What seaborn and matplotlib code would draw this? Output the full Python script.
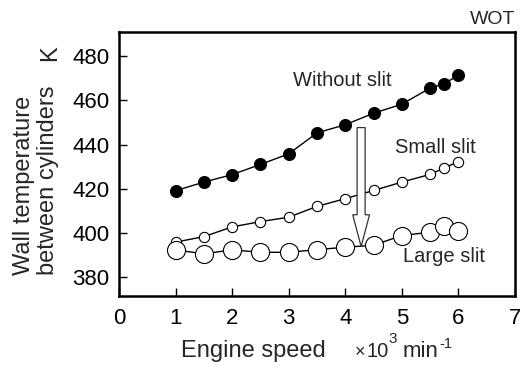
import matplotlib
matplotlib.use("Agg")
import matplotlib.pyplot as plt
import seaborn as sns
import pandas as pd
from matplotlib.patches import FancyArrow

sns.set_theme(style="white")
plt.rcParams['font.family'] = ['Liberation Sans', 'DejaVu Sans']

speed = [1.0, 1.5, 2.0, 2.5, 3.0, 3.5, 4.0, 4.5, 5.0, 5.5, 5.75, 6.0]
without_slit = [419.1, 423.0, 426.4, 431.0, 435.8, 445.3, 449.0, 454.2, 458.3, 465.6, 467.6, 471.4]
small_slit = [395.8, 398.3, 402.7, 405.1, 407.1, 412.0, 415.5, 419.2, 423.0, 426.5, 429.4, 432.3]
large_slit = [392.3, 390.5, 392.3, 391.2, 391.2, 392.4, 393.5, 394.4, 398.8, 400.3, 402.9, 401.0]
xticks = [0, 1, 2, 3, 4, 5, 6, 7]
yticks = [380, 400, 420, 440, 460, 480]

W, H = 520, 365
fig = plt.figure(figsize=(5.2, 3.65), dpi=100)
ax = fig.add_axes([119 / W, 1 - 296 / H, 396 / W, 264 / H])

sns.lineplot(x=speed, y=without_slit, ax=ax, color='black', linewidth=1.0,
             marker='o', markersize=8.6, markerfacecolor='black',
             markeredgecolor='black', markeredgewidth=0.8, zorder=3)
sns.lineplot(x=speed, y=small_slit, ax=ax, color='black', linewidth=1.0,
             marker='o', markersize=7.4, markerfacecolor='white',
             markeredgecolor='black', markeredgewidth=0.8, zorder=3)
sns.lineplot(x=speed, y=large_slit, ax=ax, color='black', linewidth=1.0,
             marker='o', markersize=13.0, markerfacecolor='white',
             markeredgecolor='black', markeredgewidth=0.8, zorder=3)

arrow = FancyArrow(4.28, 447.7, 0, -53.9, width=0.142, head_width=0.297,
                   head_length=14.4, length_includes_head=True,
                   facecolor='white', edgecolor='#333333', linewidth=0.9, zorder=4)
ax.add_patch(arrow)

ax.set_xlim(0, 7)
ax.set_ylim(371.4, 491)
ax.set_xticks(xticks)
ax.set_yticks(yticks)
ax.set_xticklabels([str(v) for v in xticks])
ax.set_yticklabels([str(v) for v in yticks])
ax.tick_params(axis='both', direction='in', length=5.5, width=1.0, labelsize=16,
               colors='black', bottom=True, left=True, top=False, right=False)
ax.tick_params(axis='x', pad=9)
ax.tick_params(axis='y', pad=7)
for s in ax.spines.values():
    s.set_visible(True)
    s.set_color('black')
    s.set_linewidth(1.8)
ax.set_xlabel('')
ax.set_ylabel('')

ax.text(3.94, 468.9, 'Without slit', fontsize=14.5, ha='center', va='center')
ax.text(5.6, 438.5, 'Small slit', fontsize=14.5, ha='center', va='center')
ax.text(5.75, 389.2, 'Large slit', fontsize=14.5, ha='center', va='center')

fig.text(515 / W, 1 - 19 / H, 'WOT', fontsize=14, ha='right', va='center')

fig.text(36 / W, 1 - 275 / H, 'Wall temperature\nbetween cylinders', fontsize=17,
         rotation=90, ha='center', va='bottom', multialignment='left',
         linespacing=1.1)
fig.text(50 / W, 1 - 53 / H, 'K', fontsize=17, rotation=90, ha='center', va='center')

base = 1 - 356.7 / H
fig.text(181 / W, base, 'Engine speed', fontsize=17, ha='left', va='baseline')
fig.text(355 / W, base, '\u00d7', fontsize=13, ha='left', va='baseline')
fig.text(366 / W, base, '10', fontsize=14.5, ha='left', va='baseline')
fig.text(388 / W, 1 - 343 / H, '3', fontsize=11, ha='left', va='baseline')
fig.text(403 / W, base, 'min', fontsize=16, ha='left', va='baseline')
fig.text(439.5 / W, 1 - 347.5 / H, '-1', fontsize=10.5, ha='left', va='baseline')

fig.savefig('out.png', dpi=100, facecolor='white')
